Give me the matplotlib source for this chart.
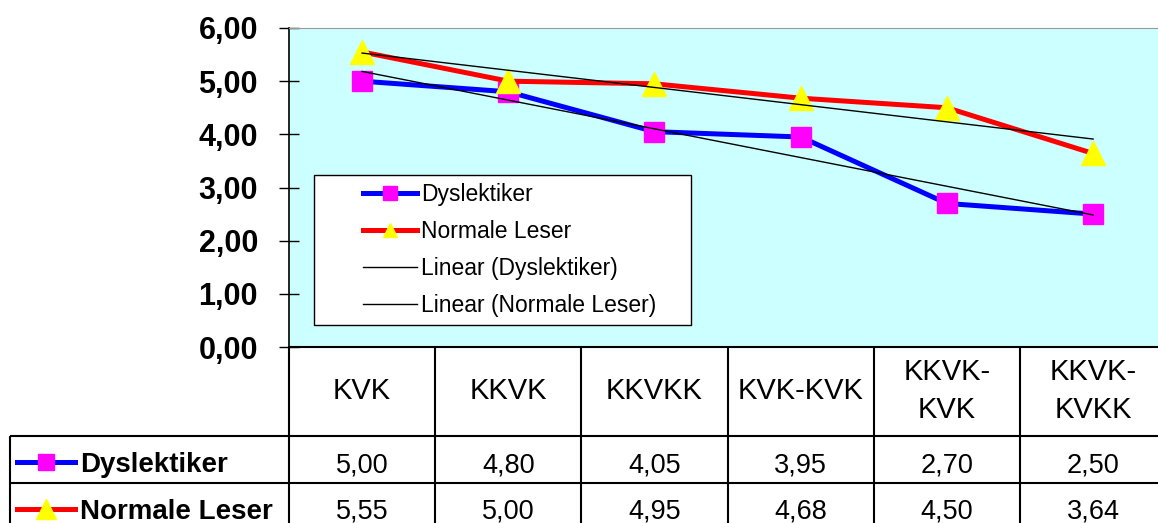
import matplotlib.pyplot as plt
import numpy as np
from matplotlib.patches import Rectangle
from matplotlib.ticker import FuncFormatter

categories = ['KVK', 'KKVK', 'KKVKK', 'KVK-KVK', 'KKVK-\nKVK', 'KKVK-\nKVKK']
dyslektiker = [5.00, 4.80, 4.05, 3.95, 2.70, 2.50]
normale = [5.55, 5.00, 4.95, 4.68, 4.50, 3.64]
names = ['Dyslektiker', 'Normale Leser']

# pixel layout of the original (plot area runs past the right edge)
W, H = 1158, 523
left, top, bottom = 289, 28, 347
colw = 146.2
right = left + len(categories) * colw

plt.rcParams['font.family'] = ['Liberation Sans', 'DejaVu Sans']

fig = plt.figure(figsize=(W / 100, H / 100), dpi=100)
ax = fig.add_axes([left / W, 1 - bottom / H, (right - left) / W, (bottom - top) / H])
ax.set_facecolor('#ccffff')

x = np.arange(len(categories))
styles = [dict(color='#0000ff', marker='s', ms=14, mfc='#ff00ff', mec='#ff00ff'),
          dict(color='#ff0000', marker='^', ms=17, mfc='#ffff00', mec='#ffff00')]
for vals, name, st in zip([dyslektiker, normale], names, styles):
    ax.plot(x, vals, lw=3.6, label=name, zorder=3, **st)

# Excel style linear trend lines
for vals, name in zip([dyslektiker, normale], names):
    k, b = np.polyfit(x, vals, 1)
    ends = x[[0, -1]]
    ax.plot(ends, k * ends + b, color='black', lw=1, label=f'Linear ({name})', zorder=4)

ax.set_xlim(-0.5, len(categories) - 0.5)
ax.set_ylim(0, 6)
ax.set_xticks([])
ax.set_yticks(range(7))
ax.yaxis.set_major_formatter(FuncFormatter(lambda v, p: f'{v:.2f}'.replace('.', ',')))
ax.tick_params(axis='y', direction='inout', length=15, width=1, pad=14.8, labelsize=22)
plt.setp(ax.get_yticklabels(), fontweight='bold')
ax.spines['right'].set_visible(False)
ax.spines['top'].set_color('#999999')
ax.spines['left'].set_linewidth(1.2)
ax.spines['bottom'].set_linewidth(1.5)

# legend: white box with the entries inside
ax.add_patch(Rectangle((0.0285, 0.069), 0.4295, 0.47, transform=ax.transAxes,
                       facecolor='white', edgecolor='black', lw=1, zorder=5))
leg = ax.legend(loc='upper left', bbox_to_anchor=(0.0844, 0.515), frameon=False,
                fontsize=16.5, handlelength=2.36, handletextpad=0.17, labelspacing=0.62,
                borderpad=0, borderaxespad=0, numpoints=1)
leg.set_zorder(6)
for h in leg.legend_handles[:2]:
    h.set_markersize(10)

# data table below the plot, in pixel coordinates
tab = fig.add_axes([0, 0, 1, 1])
tab.set_xlim(0, W)
tab.set_ylim(H, 0)
tab.axis('off')
tab.patch.set_visible(False)

col_edges = [left + i * colw for i in range(len(categories) + 1)]
tab.vlines(col_edges, bottom, H, color='black', lw=1.5)
tab.vlines(10, 436, H, color='black', lw=1.5)
tab.hlines([436, 483], 10, W, color='black', lw=1.5)

for i, cat in enumerate(categories):
    cx = left + (i + 0.5) * colw
    tab.text(cx, 391, cat, ha='center', va='center', fontsize=21, linespacing=1.42)

for row_y, vals, name, st in zip([462, 509], [dyslektiker, normale], names, styles):
    tab.plot([17, 75], [row_y, row_y], color=st['color'], lw=3.6)
    tab.plot(46, row_y, marker=st['marker'], ms=st['ms'] - 2, mfc=st['mfc'], mec=st['mec'])
    tab.text(80, row_y, name, ha='left', va='center_baseline', fontsize=20, fontweight='bold')
    for i, v in enumerate(vals):
        cx = left + (i + 0.5) * colw
        tab.text(cx, row_y, f'{v:.2f}'.replace('.', ','), ha='center', va='center_baseline',
                 fontsize=19.5)

fig.savefig('out.png', dpi=100)
